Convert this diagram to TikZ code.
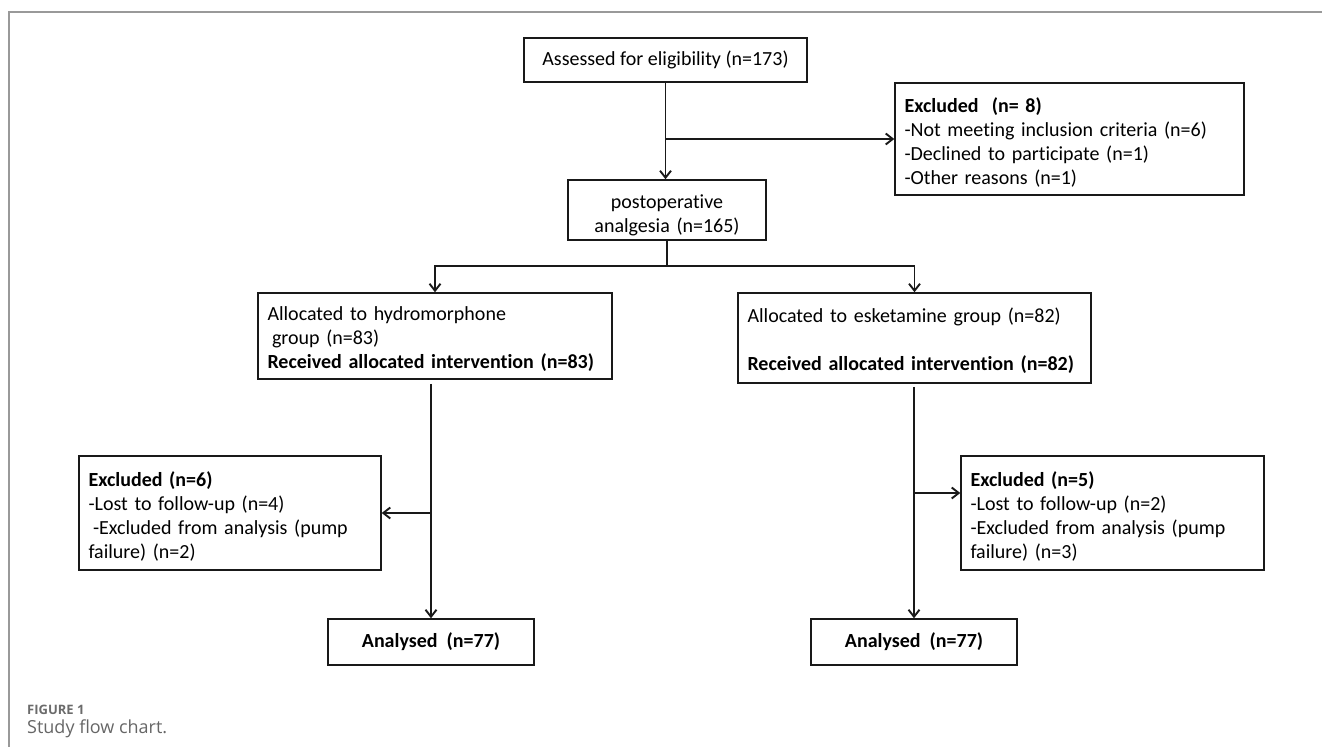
\documentclass[tikz,border=0pt]{standalone}
\usepackage{fontspec}
\setmainfont[Ligatures={NoCommon}]{Carlito}
\newfontfamily\capfont{Open Sans}
\usetikzlibrary{arrows.meta}
\begin{document}
\begin{tikzpicture}[x=1pt,y=-1pt,
  box/.style={draw=black!90, line width=1.5pt, inner xsep=9.5pt, inner ysep=0pt,
    font=\fontsize{20}{24}\selectfont},
  lbox/.style={box, align=left, text width=#1, text height=21pt},
  cbox/.style={box, align=center},
  conn/.style={line width=1.9pt, draw=black!90},
  arr/.style={conn, -{Straight Barb[length=7pt,width=11pt]}},
  framestyle/.style={draw=black!40, line width=1.2pt},
]
\useasboundingbox (0,0) rectangle (1322,747);
\draw[framestyle] (1322,12) -- (9,12) -- (9,747);

\node[cbox, minimum width=283pt, minimum height=44pt] (assess) at (665.5,60)
  {Assessed for eligibility (n=173)};
\node[lbox=330pt, minimum height=112pt] (excl1) at (1069.5,139)
  {\textbf{Excluded\ \ (n= 8)}\\-Not meeting inclusion criteria (n=6)\\-Declined to participate (n=1)\\-Other reasons (n=1)};
\node[cbox, text width=179pt, text height=24pt, minimum height=60pt] (postop) at (667,210)
  {postoperative\\analgesia (n=165)};
\node[lbox=335pt, minimum height=86pt] (hydro) at (435,336)
  {Allocated to hydromorphone\\\hspace*{4.5pt}group (n=83)\\\textbf{Received allocated intervention (n=83)}};
\node[lbox=334pt, minimum height=90pt] (esket) at (914.5,338)
  {Allocated to esketamine group (n=82)\\[24pt]\textbf{Received allocated intervention (n=82)}};
\node[lbox=283pt, minimum height=114pt] (exL) at (230,513)
  {\textbf{Excluded (n=6)}\\-Lost to follow-up (n=4)\\\hspace*{4.5pt}-Excluded from analysis (pump\\failure) (n=2)};
\node[lbox=284pt, minimum height=114pt] (exR) at (1112.5,513)
  {\textbf{Excluded (n=5)}\\-Lost to follow-up (n=2)\\-Excluded from analysis (pump\\failure) (n=3)};
\node[cbox, minimum width=206pt, minimum height=46pt] (anL) at (431,642)
  {\textbf{Analysed\ \ (n=77)}};
\node[cbox, minimum width=206pt, minimum height=46pt] (anR) at (914,642)
  {\textbf{Analysed\ \ (n=77)}};

\draw[arr] (assess.south) -- (assess.south |- postop.north);
\draw[arr] (assess.south |- excl1.west) -- (excl1.west);
\coordinate (split) at (666,266);
\draw[conn] (postop.south) -- (postop.south |- split);
\draw[arr] (postop.south |- split) -| (hydro.north);
\draw[arr] (postop.south |- split) -| (esket.north);
\draw[arr, shorten <=4pt] (anL.north |- hydro.south) -- (anL.north);
\draw[arr] (anL.north |- exL.east) -- (exL.east);
\draw[arr, shorten <=3pt] (anR.north |- esket.south) -- (anR.north);
\coordinate (jR) at (914,493);
\draw[arr] (jR) -- (jR -| exR.west);

\node[anchor=base west, inner sep=0pt, font=\capfont\bfseries\fontsize{13}{15}\selectfont, text=black!58] (figlab) at (27,714) {FIGURE 1};
\node[anchor=base west, inner sep=0pt, font=\capfont\fontsize{18}{21}\selectfont, text=black!60] (figcap) at (27,733) {Study flow chart.};
\end{tikzpicture}
\end{document}
